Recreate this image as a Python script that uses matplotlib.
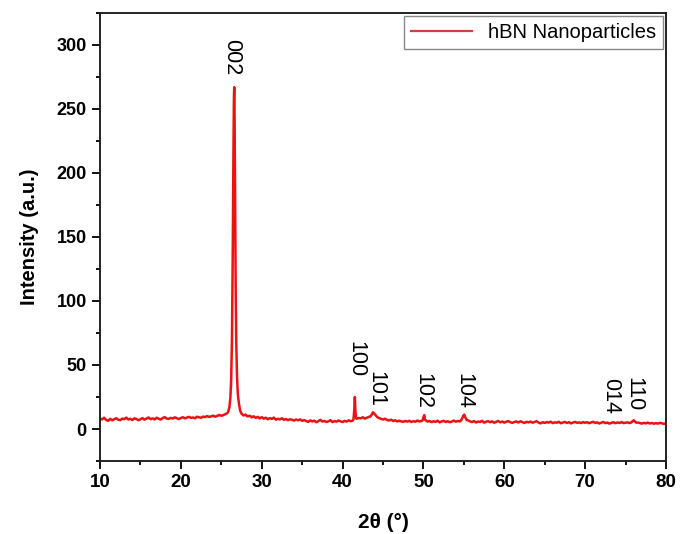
import numpy as np
import pandas as pd
import matplotlib
matplotlib.use("Agg")
import matplotlib.pyplot as plt

plt.rcParams['font.family'] = ['Liberation Sans', 'DejaVu Sans']

# baseline of the pattern, read every 0.25 deg from 10 to 80 (peak windows dropped below)
baseline_start, baseline_step = 10.0, 0.25
baseline = [
    8.2, 7.5, 8.8, 7.1, 6.4, 7.9, 6.8, 7.6, 8.4, 7.2, 6.9, 8.1, 7.7, 8.9, 7.4, 8.0, 7.0, 8.3, 7.8, 6.9,
    7.6, 8.5, 7.3, 8.1, 9.0, 7.7, 8.3, 7.5, 8.8, 8.0, 7.4, 8.6, 9.3, 8.1, 7.9, 8.7, 8.2, 9.1, 8.4, 7.8,
    8.6, 9.2, 8.3, 8.9, 9.5, 8.7, 9.0, 8.4, 9.6, 9.1, 8.8, 9.7, 9.3, 10.1, 9.4, 9.9, 10.4, 9.6, 10.2, 11.0,
    10.3, 10.9, 11.6, 12.4, 14, 14, 14, 14, 14, 14, 14, 10.6, 11.2, 9.8, 10.4, 9.1, 9.9, 8.7, 9.5, 8.3,
    9.2, 8.1, 8.8, 7.6, 8.5, 7.9, 8.9, 7.3, 8.0, 7.5, 8.4, 7.1, 7.8, 6.9, 7.6, 7.2, 6.6, 7.4, 6.8, 7.5,
    6.4, 7.0, 6.2, 5.6, 6.7, 5.9, 6.5, 5.3, 6.1, 7.2, 5.8, 6.3, 5.5, 6.0, 6.9, 5.4, 6.2, 5.7, 6.6, 6.0,
    5.5, 6.3, 5.8, 6.7, 6.1, 6.5, 14, 8.0, 8.6, 8.3, 9.2, 8.1, 8.8, 9.5, 12, 12, 12, 12, 8.6, 7.9,
    7.4, 8.0, 7.1, 6.6, 7.3, 6.2, 6.8, 5.9, 6.5, 6.0, 5.6, 6.3, 5.8, 6.4, 5.5, 6.1, 5.7, 6.6, 5.9, 6.2,
    10, 6.6, 5.8, 6.3, 5.4, 6.0, 5.6, 6.5, 5.2, 5.9, 6.4, 5.5, 6.1, 5.3, 5.8, 6.6, 5.7, 6.3, 5.9, 9,
    10, 9, 6.8, 6.0, 5.4, 6.2, 5.1, 5.8, 5.5, 6.4, 5.0, 5.7, 6.1, 5.3, 5.9, 4.9, 5.6, 6.3, 5.2, 5.8,
    5.0, 5.7, 6.2, 5.3, 4.8, 5.5, 5.9, 5.1, 6.0, 5.4, 4.7, 5.6, 5.2, 5.8, 4.9, 5.5, 6.1, 5.0, 4.4, 5.3,
    4.8, 5.4, 5.0, 5.7, 4.6, 5.2, 4.9, 5.6, 4.5, 5.1, 5.5, 4.7, 5.3, 4.4, 5.0, 5.6, 4.8, 5.2, 4.6, 5.4,
    4.9, 5.3, 4.5, 5.1, 5.6, 4.7, 5.2, 4.3, 4.9, 5.5, 4.6, 5.0, 4.2, 4.8, 5.3, 4.5, 5.1, 4.7, 5.4, 4.6,
    4.9, 5.2, 4.6, 6, 6, 6, 5.0, 4.7, 4.2, 4.8, 4.4, 5.0, 4.3, 4.7, 4.1, 4.6, 4.2, 4.8, 4.4, 4.0,
    4.5,
]

# peak profiles (2theta, intensity)
peak_002_x = [25.85, 26.0, 26.12, 26.22, 26.32, 26.42, 26.5, 26.56, 26.6, 26.65, 26.71, 26.78, 26.86, 26.95, 27.05, 27.2, 27.35, 27.5]
peak_002_y = [13.5, 17, 24, 38, 70, 140, 215, 258, 267, 240, 175, 110, 65, 40, 27, 19, 14, 12]
peak_100_x = [41.35, 41.45, 41.52, 41.6, 41.68]
peak_100_y = [7.5, 15, 25, 13, 8.5]
peak_101_x = [43.45, 43.6, 43.75, 43.85, 44.0, 44.15, 44.3]
peak_101_y = [9.8, 11.2, 13, 12.6, 11.4, 10.3, 9.2]
peak_102_x = [49.9, 50.0, 50.1, 50.2]
peak_102_y = [6.8, 9, 10.8, 7.2]
peak_104_x = [54.65, 54.8, 54.95, 55.05, 55.2, 55.35]
peak_104_y = [6.6, 8.4, 10.6, 11.2, 8.8, 7.0]
peak_110_x = [75.7, 75.85, 76.0, 76.15, 76.3]
peak_110_y = [5.1, 5.9, 6.8, 6.0, 5.0]

# Miller index labels: text, 2theta, top of label (intensity)
hkl_labels = ['002', '100', '101', '102', '104', '014', '110']
hkl_x = [26.25, 41.7, 44.1, 49.9, 55.05, 73.15, 76.0]
hkl_top = [305, 69, 45, 44, 44, 40, 41]

peaks = [(peak_002_x, peak_002_y), (peak_100_x, peak_100_y), (peak_101_x, peak_101_y),
         (peak_102_x, peak_102_y), (peak_104_x, peak_104_y), (peak_110_x, peak_110_y)]

base = pd.DataFrame({'x': baseline_start + baseline_step * np.arange(len(baseline)), 'y': baseline})
keep = np.ones(len(base), dtype=bool)
for px, py in peaks:
    keep &= ~((base['x'] >= min(px) - 0.05) & (base['x'] <= max(px) + 0.05))
parts = [base[keep]] + [pd.DataFrame({'x': px, 'y': py}) for px, py in peaks]
xrd = pd.concat(parts).sort_values('x')

fig = plt.figure(figsize=(6.86, 5.34), dpi=100)
ax = fig.add_axes([0.1458, 0.1367, 0.8250, 0.8390])

ax.plot(xrd['x'], xrd['y'], color='#ee1111', lw=1.8, label='hBN Nanoparticles')

for lab, hx, ht in zip(hkl_labels, hkl_x, hkl_top):
    ax.text(hx, ht, lab, rotation=270, ha='center', va='top', fontsize=15.5)

ax.set_xlim(10, 80)
ax.set_ylim(-25, 325)
ax.set_xticks(range(10, 81, 10))
ax.set_xticks(range(15, 80, 10), minor=True)
ax.set_yticks(range(0, 301, 50))
ax.set_yticks(range(-25, 326, 50), minor=True)
ax.tick_params(which='major', direction='out', length=6, width=1.3, labelsize=13)
ax.tick_params(axis='x', labelsize=13.5)
ax.tick_params(which='minor', direction='out', length=3, width=1.3)
for lab in ax.get_xticklabels() + ax.get_yticklabels():
    lab.set_fontweight('bold')
for s in ax.spines.values():
    s.set_linewidth(1.4)
    s.set_color('#222222')

ax.set_xlabel('2θ (°)', fontsize=15, fontweight='bold', labelpad=16)
ax.set_ylabel('Intensity (a.u.)', fontsize=14.5, fontweight='bold', labelpad=13)

leg = ax.legend(loc='upper right', fontsize=14.5, fancybox=False, edgecolor='#888888',
                borderaxespad=0.15, handlelength=3.0, borderpad=0.35, framealpha=1)
leg.get_frame().set_linewidth(1.0)
leg.get_lines()[0].set_color('#d04040')
leg.get_lines()[0].set_linewidth(1.6)

fig.savefig('out.png', dpi=100)
